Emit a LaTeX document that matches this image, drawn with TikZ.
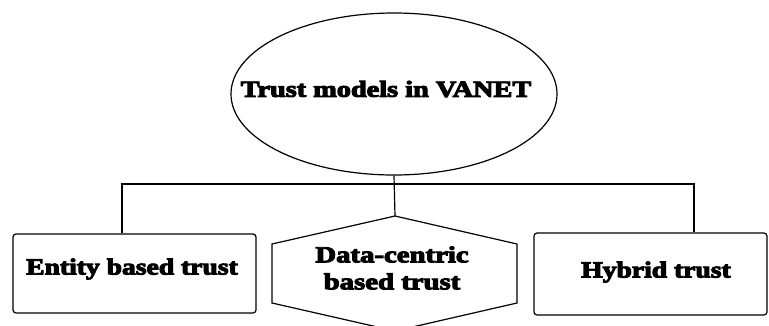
\documentclass[tikz,border=0pt]{standalone}
\usepackage{fontspec}
\newfontfamily\heavy{Liberation Serif}[UprightFont=* Bold, FakeBold=4]
\usetikzlibrary{shapes.geometric}
\newcommand{\wide}[2]{\scalebox{#1}[1]{#2}}
\begin{document}
\begin{tikzpicture}[x=1pt,y=-1pt,
  txt/.style={font=\heavy\fontsize{23}{27}\selectfont, inner sep=0pt},
  box/.style={draw, line width=1.2pt, rounded corners=3pt, inner sep=0pt},
  conn/.style={line width=1.2pt}]
\useasboundingbox (0,0) rectangle (769,325);
\node[draw, ellipse, line width=1.2pt, minimum width=326pt, minimum height=162pt, inner sep=0pt] (root) at (394,94) {};
\node[txt] (roottxt) at (386,89) {\wide{1.23}{Trust models in VANET}};
\node[box, minimum width=243pt, minimum height=79pt] (ent) at (134.5,273.5) {};
\node[txt] (enttxt) at (132,269) {\wide{1.2}{Entity based trust}};
\node[box, minimum width=233pt, minimum height=82pt] (hyb) at (650.5,274) {};
\node[txt] (hybtxt) at (656,272) {\wide{1.2}{Hybrid trust}};
\coordinate (ht) at (395,216);
\coordinate (hul) at (272,244);
\coordinate (hll) at (272,303);
\coordinate (hb) at (395,331);
\coordinate (hlr) at (517,303);
\coordinate (hur) at (517,244);
\draw[conn] (ht) -- (hul) -- (hll) -- (hb) -- (hlr) -- (hur) -- cycle;
\node[txt, align=center] (dat) at (392,268) {\wide{1.25}{Data-centric}\\\wide{1.25}{based trust}};
\coordinate (bl) at (122,184);
\coordinate (br) at (694,184);
\draw[conn] (ent.north -| bl) -- (bl) -- (br) -- (hyb.north -| br);
\draw[conn] (root.south) -- (ht);
\end{tikzpicture}
\end{document}
